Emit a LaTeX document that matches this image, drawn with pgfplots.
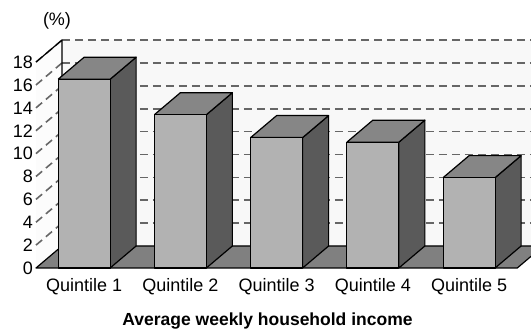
\documentclass[border=0pt]{standalone}
\usepackage{pgfplots}
\pgfplotsset{compat=1.18}
\usepackage{pgfplotstable}
\usepackage{fontspec}
\setmainfont{Liberation Sans}

\definecolor{barfront}{HTML}{B2B2B2}
\definecolor{bartopc}{HTML}{868686}
\definecolor{barsidec}{HTML}{5A5A5A}
\definecolor{floorc}{HTML}{808080}
\definecolor{backwall}{HTML}{F8F8F8}
\definecolor{sidewall}{HTML}{FCFCFC}
\definecolor{gridc}{HTML}{666666}

\tikzset{
  gridline/.style={draw=gridc, line width=1.6bp, dash pattern=on 8bp off 5bp},
  edge/.style={draw=black, line width=1.2bp, line join=round},
}

% share of households by income quintile (%)
\pgfplotstableread{
q v
0 16.5
1 13.4
2 11.4
3 11.0
4 7.9
}\incomedata

% oblique depth of the 3-D box, in axis units
\newcommand\depthx{0.27}
\newcommand\depthy{1.923}
\newcommand\halfw{0.27}
\newcommand\wallx{-0.23}
\newcommand\labelfont{\fontsize{18bp}{21bp}\selectfont}

\begin{document}
\begin{tikzpicture}
\useasboundingbox (0,0) rectangle (531bp,329bp);
\begin{axis}[
  at={(36bp,61bp)}, anchor=south west,
  x=96.25bp, y=11.44bp,
  xmin=-0.5, xmax=4.643, ymin=0, ymax=19.923,
  clip=false,
  axis line style={draw=none},
  major tick length=0pt,
  ytick={0,2,...,18},
  xtick={0,...,4},
  xticklabels={Quintile 1,Quintile 2,Quintile 3,Quintile 4,Quintile 5},
  /pgf/number format/assume math mode=true,
  ticklabel style={font=\labelfont, inner sep=0pt},
  yticklabel style={anchor=east, xshift=-3bp},
  xticklabel style={anchor=north, yshift=-10bp},
  no markers,
]
% walls
\fill[backwall] (axis cs:\wallx,\depthy) rectangle (axis cs:5,19.923);
\fill[sidewall] (axis cs:-0.5,0) -- (axis cs:\wallx,\depthy) -- (axis cs:\wallx,19.923) -- (axis cs:-0.5,18) -- cycle;
% gridlines on the back wall and the side wall
\pgfplotsinvokeforeach{2,4,...,18}{
  \pgfmathsetmacro\gy{#1+\depthy}
  \edef\gridpair{%
    \noexpand\draw[gridline] (axis cs:\wallx,\gy) -- (axis cs:5,\gy);
    \noexpand\draw[gridline] (axis cs:-0.5,#1) -- (axis cs:\wallx,\gy);
  }
  \gridpair
}
\draw[edge] (axis cs:-0.5,18) -- (axis cs:\wallx,19.923) -- (axis cs:\wallx,\depthy);
% floor
\filldraw[edge, fill=floorc] (axis cs:-0.5,0) -- (axis cs:4.5,0) -- (axis cs:4.77,\depthy) -- (axis cs:\wallx,\depthy) -- cycle;
% side and top faces of each bar
\pgfplotsinvokeforeach{0,...,4}{
  \pgfplotstablegetelem{#1}{v}\of\incomedata
  \pgfmathsetmacro\barv{\pgfplotsretval}
  \pgfmathsetmacro\bart{\pgfplotsretval+\depthy}
  \pgfmathsetmacro\xl{#1-\halfw}
  \pgfmathsetmacro\xr{#1+\halfw}
  \pgfmathsetmacro\xrb{#1+\halfw+\depthx}
  \pgfmathsetmacro\xlb{#1-\halfw+\depthx}
  \edef\barfaces{%
    \noexpand\addplot[edge, fill=barsidec] coordinates {(\xr,0) (\xr,\barv) (\xrb,\bart) (\xrb,\depthy) (\xr,0)};
    \noexpand\addplot[edge, fill=bartopc] coordinates {(\xl,\barv) (\xr,\barv) (\xrb,\bart) (\xlb,\bart) (\xl,\barv)};
  }
  \barfaces
}
% front faces
\addplot[ybar, bar width=0.54, edge, fill=barfront] table[x=q, y=v] {\incomedata};
\end{axis}
\node[font=\labelfont, inner sep=0pt] at (57bp,308bp) {(\%)};
\node[font=\fontsize{17.5bp}{21bp}\selectfont\bfseries, anchor=base, inner sep=0pt] at (267.5bp,3.9bp) {Average weekly household income};
\end{tikzpicture}
\end{document}
